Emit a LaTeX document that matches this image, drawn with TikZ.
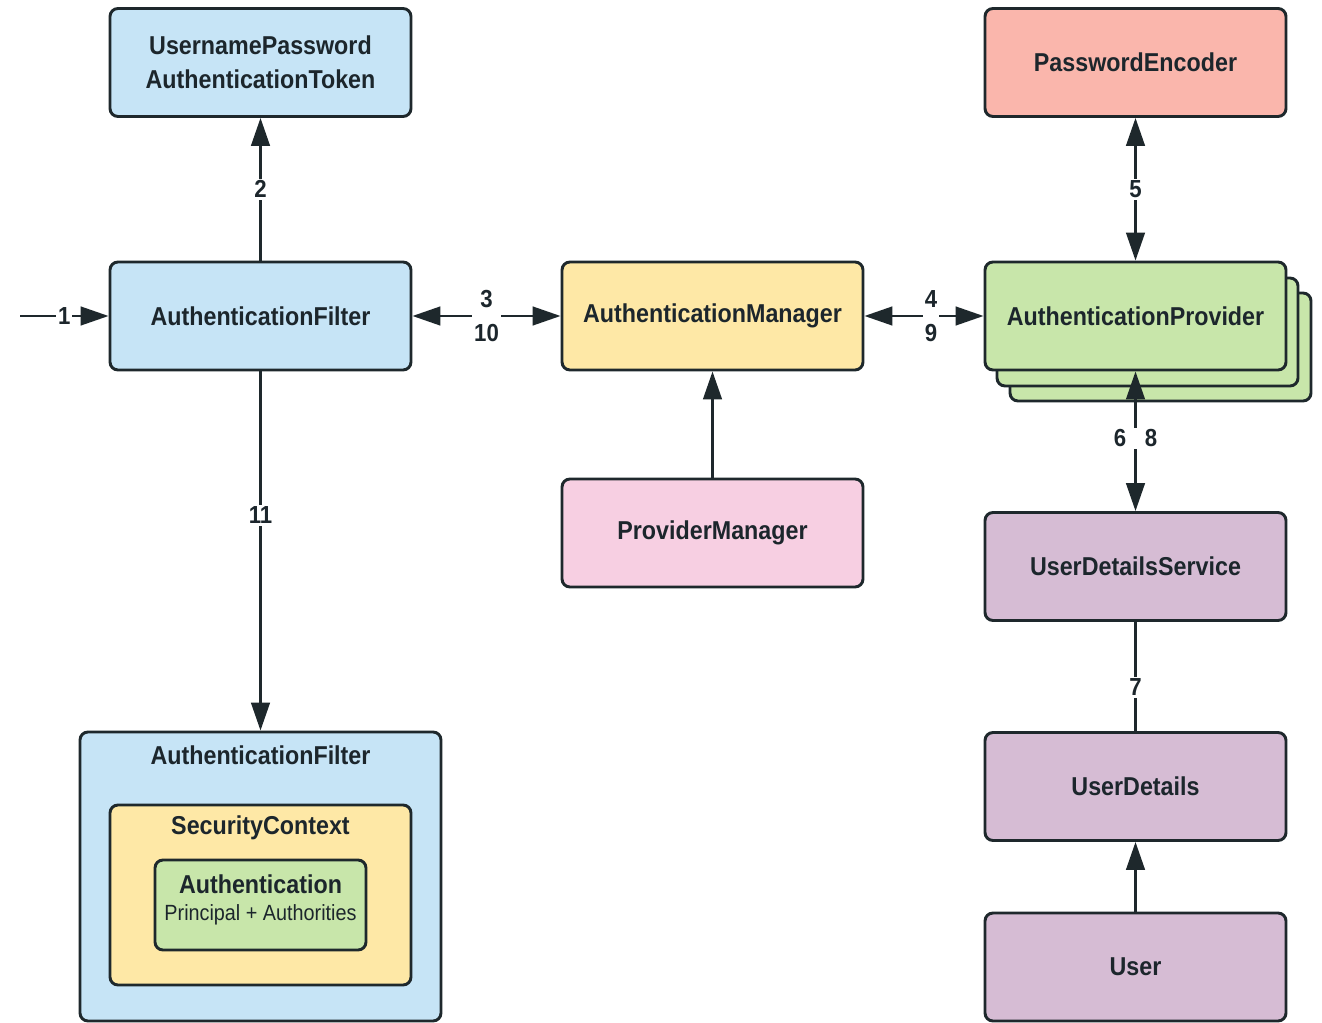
\documentclass[tikz,border=0pt]{standalone}
\usepackage{fontspec}
\setmainfont{Liberation Sans}[FakeStretch=0.9]
\usetikzlibrary{arrows.meta}
\definecolor{bordc}{RGB}{30,40,44}
\definecolor{txtc}{RGB}{28,38,44}
\definecolor{fblue}{RGB}{198,228,246}
\definecolor{fyellow}{RGB}{254,232,166}
\definecolor{fsalmon}{RGB}{250,182,172}
\definecolor{fgreen}{RGB}{200,230,170}
\definecolor{fpink}{RGB}{247,207,226}
\definecolor{fpurple}{RGB}{214,188,212}
\tikzset{
  boxst/.style={draw=bordc, line width=2.2pt, rounded corners=6pt, minimum width=225.75pt, minimum height=81pt, align=center, text=txtc, font=\fontsize{19.4}{25.5}\selectfont\bfseries, inner sep=0pt},
  ttl/.style={text=txtc, font=\fontsize{19.4}{25.5}\selectfont\bfseries},
  lbl/.style={fill=white, inner sep=1.5pt, text=txtc, font=\fontsize{18.5}{25}\selectfont\bfseries, align=center},
  conn/.style={draw=bordc, line width=1.9pt},
  tip/.style={-{Triangle[length=21pt,width=14pt]}},
  btip/.style={{Triangle[length=21pt,width=14pt]}-{Triangle[length=21pt,width=14pt]}},
}
\begin{document}
\begin{tikzpicture}[x=0.75pt,y=-0.75pt]
\useasboundingbox[fill=white] (0,0) rectangle (1322,1023);
\node[boxst, fill=fblue] (upat) at (260.5,62.5) {UsernamePassword\\AuthenticationToken};
\node[boxst, fill=fblue] (af) at (260.5,316) {AuthenticationFilter};
\node[boxst, fill=fyellow] (am) at (712.5,316) {AuthenticationManager};
\node[boxst, fill=fpink] (pm) at (712.5,533) {ProviderManager};
\node[boxst, fill=fsalmon] (pe) at (1135.5,62.5) {PasswordEncoder};
\node[boxst, fill=fgreen] (ap3) at (1160.5,347) {};
\node[boxst, fill=fgreen] (ap2) at (1147.5,332) {};
\node[boxst, fill=fgreen] (ap) at (1135.5,316) {AuthenticationProvider};
\node[boxst, fill=fpurple] (uds) at (1135.5,566.5) {UserDetailsService};
\node[boxst, fill=fpurple] (ud) at (1135.5,786.5) {UserDetails};
\node[boxst, fill=fpurple] (usr) at (1135.5,967) {User};
% nested box
\node[boxst, fill=fblue, minimum width=270.75pt, minimum height=216.75pt] (outer) at (260.5,876.5) {};
\node[ttl] (outert) at (260.5,755) {AuthenticationFilter};
\node[boxst, fill=fyellow, minimum height=135pt] (sc) at (260.5,895) {};
\node[ttl] (sct) at (260.5,828) {SecurityContext};
\node[boxst, fill=fgreen, minimum width=158.25pt, minimum height=67.5pt] (auth) at (260.5,905) {};
\node[ttl] (autht) at (260.5,884) {Authentication};
\node[text=txtc, font=\fontsize{16.5}{18}\selectfont] (authp) at (260.5,915) {Principal + Authorities};
% connectors
\coordinate (start) at (20,316);
\draw[conn, tip] (start) -- node[lbl] {1} (af);
\draw[conn, tip] (af) -- node[lbl, pos=0.5] {2} (upat);
\draw[conn, btip] (af) -- node[lbl] {3\\10} (am);
\draw[conn, btip] (am) -- node[lbl, pos=0.56] {4\\9} (ap);
\draw[conn, btip] (pe) -- node[lbl] {5} (ap);
\draw[conn, btip] (ap.south) -- node[lbl, pos=0.48] {6\hspace{14pt}8} (uds.north);
\draw[conn, tip] (pm) -- (am);
\draw[conn, tip] (af.south) -- node[lbl, pos=0.40] {11} (outer.north);
\draw[conn] (uds) -- node[lbl, pos=0.6] {7} (ud);
\draw[conn, tip] (usr) -- (ud);
\end{tikzpicture}
\end{document}
